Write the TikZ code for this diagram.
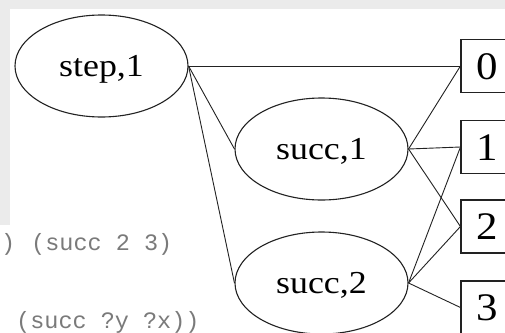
\documentclass[tikz,border=0pt]{standalone}
\usepackage{fontspec}
\setmainfont{Liberation Serif}
\newfontfamily\lblfont[FakeStretch=1.12]{Liberation Serif}
\newfontfamily\boxfont[FakeStretch=1.1]{Liberation Serif}
\newfontfamily\codefont{Liberation Mono}
\usetikzlibrary{shapes.geometric}
\definecolor{bggray}{HTML}{EBEBEB}
\definecolor{codegray}{HTML}{7A7A7A}
\definecolor{ink}{HTML}{222222}
\begin{document}
\begin{tikzpicture}[x=1pt,y=-1pt,
  state/.style={ellipse,draw=ink,line width=1.1pt,minimum width=173pt,minimum height=102pt,inner sep=0pt,font=\lblfont\fontsize{32}{32}\selectfont,text height=21.6pt,text depth=0pt},
  valbox/.style={rectangle,draw=ink,line width=1.1pt,minimum width=52pt,minimum height=53pt,inner sep=0pt,font=\boxfont\fontsize{39}{39}\selectfont,text height=26.3pt,text depth=0pt},
  edge/.style={draw=ink,line width=0.9pt},
  code/.style={font=\codefont\fontsize{23.5}{23.5}\selectfont,text=codegray,inner sep=0pt}]
\useasboundingbox (0,0) rectangle (505,332);
\clip (0,0) rectangle (505,332);
\fill[bggray] (0,0) rectangle (505,332);
\fill[white] (10,9) -- (505,9) -- (505,332) -- (0,332) -- (0,225) -- (10,225) -- cycle;
\node[code,anchor=base west] (c0) at (1,250) {)};
\node[code,anchor=base west] (c1) at (31,250) {(succ 2 3)};
\node[code,anchor=base west] (c2) at (16,328) {(succ ?y ?x))};
\node[state] (step) at (101.5,66) {step,1};
\node[state] (s1) at (321.5,149) {succ,1};
\node[state] (s2) at (321.5,283) {succ,2};
\node[valbox] (v0) at (487,66) {0};
\node[valbox] (v1) at (487,147) {1};
\node[valbox] (v2) at (487,226.5) {2};
\node[valbox] (v3) at (487,307.5) {3};
\draw[edge] (step.east) -- (v0.west);
\draw[edge] (step.east) -- (s1.west);
\draw[edge] (step.east) -- (s2.west);
\draw[edge] (s1.east) -- (v0.west);
\draw[edge] (s1.east) -- (v1.west);
\draw[edge] (s1.east) -- (v2.west);
\draw[edge] (s2.east) -- (v1.west);
\draw[edge] (s2.east) -- (v2.west);
\draw[edge] (s2.east) -- (v3.west);
\end{tikzpicture}
\end{document}
